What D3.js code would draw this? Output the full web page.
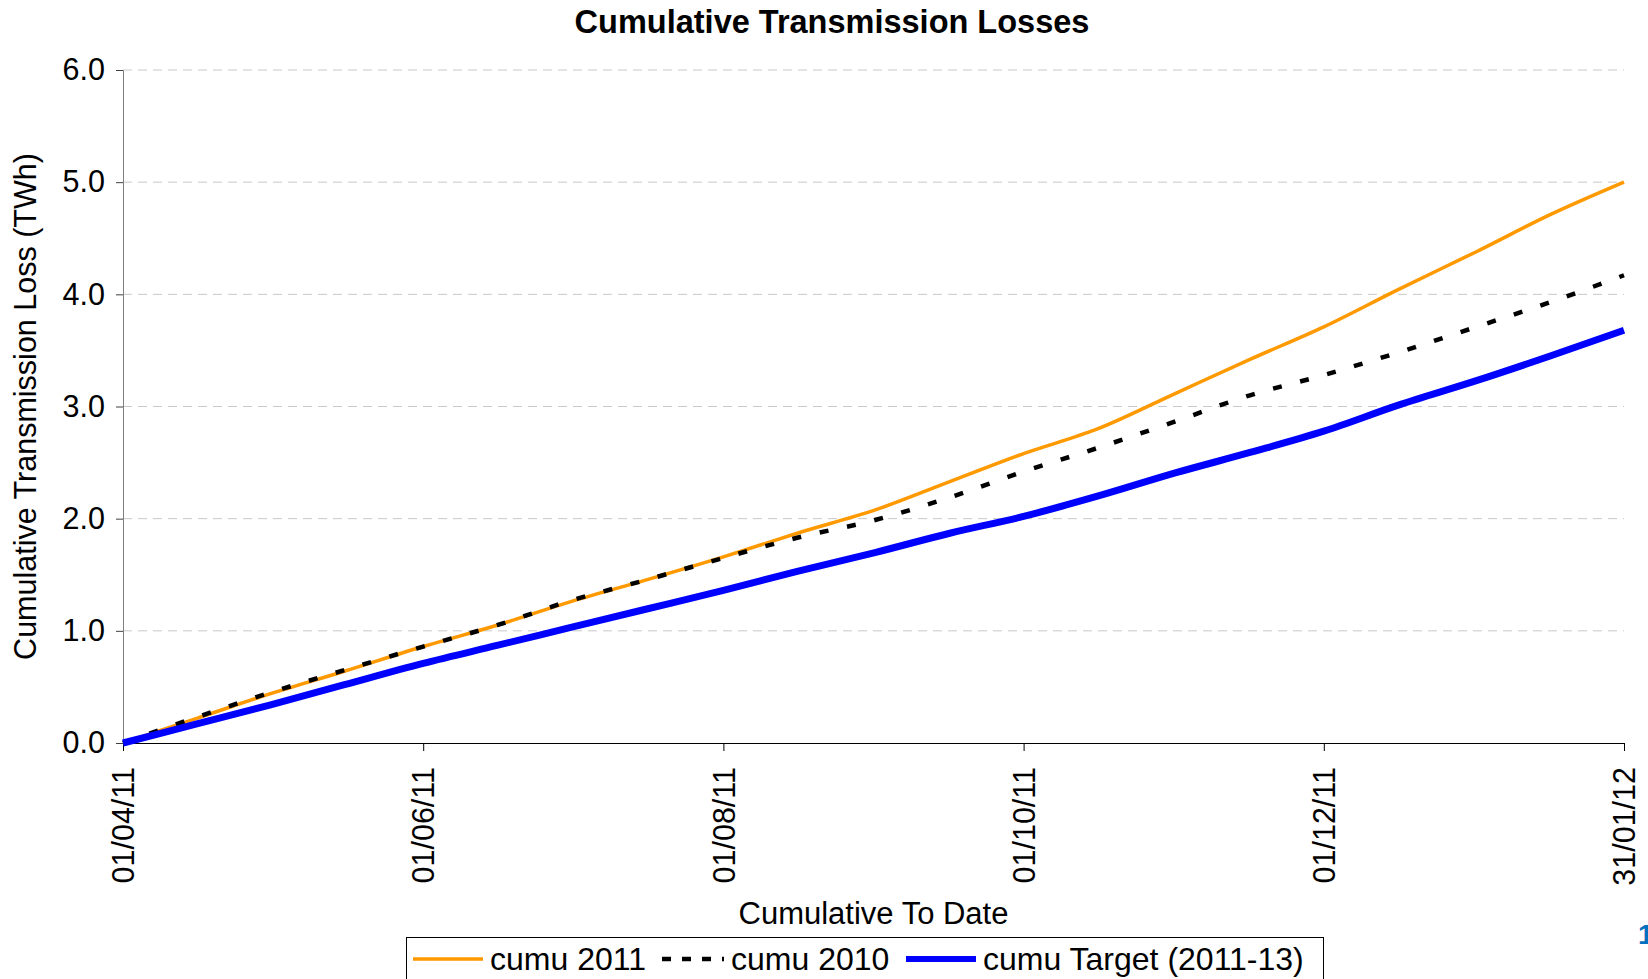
<!DOCTYPE html>
<html>
<head>
<meta charset="utf-8">
<title>Cumulative Transmission Losses</title>
<script src="https://cdn.jsdelivr.net/npm/d3@7"></script>
<style>
    html, body { margin: 0; padding: 0; background: #fff; overflow: hidden; }
    svg { display: block; font-family: "Liberation Sans", Arial, sans-serif; }
</style>
</head>
<body>
<div id="chart"></div>
<script>
// Values (semi-monthly points, TWh)
const dates = ["2011-04-01", "2011-04-16", "2011-05-01", "2011-05-16", "2011-06-01", "2011-06-16",
    "2011-07-01", "2011-07-16", "2011-08-01", "2011-08-16", "2011-09-01", "2011-09-16",
    "2011-10-01", "2011-10-16", "2011-11-01", "2011-11-16", "2011-12-01", "2011-12-16",
    "2012-01-01", "2012-01-16", "2012-01-31"];
const cumu2011 = [0, 0.22, 0.44, 0.64, 0.86, 1.05, 1.26, 1.45, 1.66, 1.87, 2.08, 2.33,
    2.58, 2.80, 3.12, 3.42, 3.71, 4.04, 4.38, 4.71, 5.00];
const cumu2010 = [0, 0.23, 0.45, 0.65, 0.86, 1.05, 1.27, 1.45, 1.65, 1.83, 1.99, 2.19,
    2.42, 2.63, 2.87, 3.10, 3.28, 3.48, 3.71, 3.93, 4.17];
const cumuTarget = [0, 0.17, 0.34, 0.52, 0.71, 0.87, 1.03, 1.19, 1.36, 1.53, 1.70, 1.87,
    2.02, 2.20, 2.41, 2.59, 2.78, 3.01, 3.23, 3.45, 3.68];

const xTickDates = ["2011-04-01", "2011-06-01", "2011-08-01", "2011-10-01", "2011-12-01", "2012-01-31"];
const xTickLabels = ["01/04/11", "01/06/11", "01/08/11", "01/10/11", "01/12/11", "31/01/12"];
const yTicks = [0, 1, 2, 3, 4, 5, 6];

const seriesNames = ["cumu 2011", "cumu 2010", "cumu Target (2011-13)"];

const W = 1648, H = 979;
const margin = { top: 70, right: 24, bottom: 236, left: 123 };
const parse = d3.timeParse("%Y-%m-%d");

const series = [
    { name: seriesNames[0], values: cumu2011, color: "#FF9900", width: 3.5, dash: null },
    { name: seriesNames[1], values: cumu2010, color: "#000000", width: 4.5, dash: "9,19" },
    { name: seriesNames[2], values: cumuTarget, color: "#0000FF", width: 7, dash: null }
];

const svg = d3.select("#chart").append("svg")
    .attr("width", W)
    .attr("height", H);

const x = d3.scaleTime()
    .domain([parse(dates[0]), parse(dates[dates.length - 1])])
    .range([margin.left, W - margin.right]);

const y = d3.scaleLinear()
    .domain([0, 6])
    .range([H - margin.bottom, margin.top]);

// gridlines
svg.append("g")
    .selectAll("line")
    .data(yTicks.filter(d => d > 0))
    .join("line")
    .attr("x1", x.range()[0])
    .attr("x2", x.range()[1])
    .attr("y1", d => y(d))
    .attr("y2", d => y(d))
    .attr("stroke", "#c8c8c8")
    .attr("stroke-width", 1)
    .attr("stroke-dasharray", "9,6");

// y axis
const yAxis = svg.append("g")
    .attr("transform", `translate(${margin.left},0)`)
    .call(d3.axisLeft(y).tickValues(yTicks).tickFormat(d3.format(".1f")).tickSize(7).tickPadding(11));
yAxis.select(".domain").attr("stroke", "#808080");
yAxis.selectAll(".tick line").attr("stroke", "#404040");
yAxis.selectAll("text")
    .attr("font-size", 30.5)
    .attr("fill", "#000");

// x axis
const xAxis = svg.append("g")
    .attr("transform", `translate(0,${H - margin.bottom})`)
    .call(d3.axisBottom(x)
        .tickValues(xTickDates.map(parse))
        .tickFormat((d, i) => xTickLabels[i])
        .tickSize(8)
        .tickSizeOuter(0));
xAxis.select(".domain").attr("stroke", "#000");
xAxis.selectAll(".tick line").attr("stroke", "#000");
xAxis.selectAll("text")
    .attr("font-size", 30.5)
    .attr("fill", "#000")
    .attr("transform", "rotate(-90)")
    .attr("text-anchor", "end")
    .attr("x", -24)
    .attr("y", 0)
    .attr("dy", "0.35em");

// lines
const line = d3.line()
    .x((d, i) => x(parse(dates[i])))
    .y(d => y(d))
    .curve(d3.curveMonotoneX);

svg.append("g")
    .selectAll("path")
    .data(series)
    .join("path")
    .attr("d", d => line(d.values))
    .attr("fill", "none")
    .attr("stroke", d => d.color)
    .attr("stroke-width", d => d.width)
    .attr("stroke-dasharray", d => d.dash)
    .attr("stroke-linejoin", "round");

// title and axis titles
svg.append("text")
    .attr("x", 832)
    .attr("y", 33)
    .attr("text-anchor", "middle")
    .attr("font-size", 32.5)
    .attr("font-weight", "bold")
    .text("Cumulative Transmission Losses");

svg.append("text")
    .attr("transform", `translate(36,${(y(0) + y(6)) / 2}) rotate(-90)`)
    .attr("text-anchor", "middle")
    .attr("font-size", 30.5)
    .text("Cumulative Transmission Loss (TWh)");

svg.append("text")
    .attr("x", (x.range()[0] + x.range()[1]) / 2)
    .attr("y", 924)
    .attr("text-anchor", "middle")
    .attr("font-size", 31)
    .text("Cumulative To Date");

// legend
const legend = svg.append("g");
legend.append("rect")
    .attr("x", 406.5)
    .attr("y", 937.5)
    .attr("width", 917)
    .attr("height", 60)
    .attr("fill", "#fff")
    .attr("stroke", "#000");

const legendX = [413, 654, 906];
const items = legend.selectAll("g.item")
    .data(series)
    .join("g")
    .attr("class", "item")
    .attr("transform", (d, i) => `translate(${legendX[i]},959)`);

items.append("line")
    .attr("x1", d => d.dash ? 8 : 0)
    .attr("x2", 70)
    .attr("stroke", d => d.color)
    .attr("stroke-width", d => d.width > 5 ? 6 : d.width)
    .attr("stroke-dasharray", d => d.dash ? "9,11" : null);

items.append("text")
    .attr("x", 77)
    .attr("dy", "0.35em")
    .attr("font-size", 32)
    .text(d => d.name);

// page number
svg.append("text")
    .attr("x", 1638)
    .attr("y", 944)
    .attr("font-size", 28)
    .attr("font-weight", "bold")
    .attr("fill", "#0070C0")
    .text("1");
</script>
</body>
</html>
